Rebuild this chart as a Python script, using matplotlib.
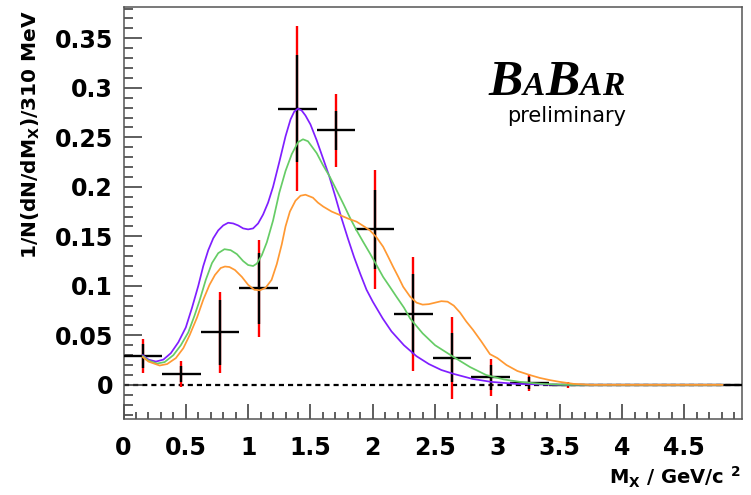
import matplotlib
matplotlib.use('Agg')
import matplotlib.pyplot as plt
from matplotlib.ticker import MultipleLocator, FixedLocator, FixedFormatter

plt.rcParams['mathtext.fontset'] = 'dejavusans'

# ---------------- data ----------------
mx = [0.155, 0.465, 0.775, 1.085, 1.395, 1.705, 2.015, 2.325,
      2.635, 2.945, 3.255, 3.565, 3.875, 4.185, 4.495, 4.805]
bin_half_width = 0.155
yval = [0.029, 0.011, 0.053, 0.0975, 0.279, 0.257, 0.157, 0.0715,
        0.0274, 0.0076, 0.002, 0.0, 0.0, 0.0, 0.0, 0.0]
stat_err = [0.012, 0.008, 0.033, 0.036, 0.054, 0.020, 0.040, 0.040,
            0.025, 0.0125, 0.006, 0.001, 0.0, 0.0, 0.0, 0.0]
tot_err = [0.017, 0.013, 0.041, 0.049, 0.083, 0.0365, 0.060, 0.0575,
           0.0414, 0.019, 0.0085, 0.003, 0.0, 0.0, 0.0, 0.0]

purple_x = [0.155, 0.20, 0.26, 0.32, 0.38, 0.44, 0.50, 0.55, 0.60, 0.64, 0.68,
            0.72, 0.76, 0.80, 0.84, 0.88, 0.92, 0.96, 1.00, 1.04, 1.08, 1.12,
            1.16, 1.20, 1.25, 1.30, 1.34, 1.37, 1.40, 1.43, 1.46, 1.50, 1.55,
            1.60, 1.65, 1.70, 1.75, 1.80, 1.85, 1.90, 1.95, 2.00, 2.08, 2.15,
            2.25, 2.35, 2.45, 2.55, 2.65, 2.80, 2.95, 3.15, 3.40, 3.60, 4.805]
purple_y = [0.030, 0.0255, 0.0235, 0.0255, 0.032, 0.043, 0.058, 0.078, 0.100,
            0.120, 0.136, 0.148, 0.156, 0.161, 0.1637, 0.163, 0.161, 0.158,
            0.157, 0.158, 0.163, 0.172, 0.184, 0.200, 0.225, 0.251, 0.268,
            0.276, 0.279, 0.277, 0.272, 0.263, 0.247, 0.229, 0.211, 0.190,
            0.168, 0.148, 0.129, 0.112, 0.096, 0.084, 0.067, 0.054, 0.040,
            0.029, 0.021, 0.015, 0.011, 0.006, 0.003, 0.001, 0.0002, 0.0, 0.0]

green_x = [0.155, 0.20, 0.27, 0.33, 0.40, 0.46, 0.52, 0.57, 0.61, 0.66, 0.71,
           0.76, 0.81, 0.86, 0.91, 0.96, 1.00, 1.04, 1.07, 1.11, 1.15, 1.20,
           1.25, 1.30, 1.35, 1.40, 1.44, 1.48, 1.55, 1.60, 1.656, 1.70, 1.763,
           1.82, 1.87, 1.92, 1.977, 2.03, 2.083, 2.137, 2.19, 2.25, 2.30, 2.40,
           2.50, 2.645, 2.78, 2.91, 3.05, 3.18, 3.35, 3.55, 4.805]
green_y = [0.029, 0.0245, 0.0215, 0.023, 0.030, 0.040, 0.053, 0.070, 0.085,
           0.106, 0.123, 0.133, 0.137, 0.136, 0.132, 0.125, 0.121, 0.120,
           0.1225, 0.131, 0.144, 0.166, 0.194, 0.216, 0.233, 0.245, 0.248,
           0.246, 0.234, 0.222, 0.210, 0.199, 0.183, 0.168, 0.156, 0.145,
           0.1328, 0.121, 0.109, 0.099, 0.089, 0.078, 0.067, 0.052, 0.040,
           0.0284, 0.018, 0.0099, 0.0055, 0.003, 0.001, 0.0, 0.0]

orange_x = [0.155, 0.20, 0.29, 0.35, 0.42, 0.48, 0.53, 0.59, 0.64, 0.69, 0.734,
            0.78, 0.814, 0.85, 0.894, 0.95, 1.00, 1.05, 1.095, 1.14, 1.188,
            1.23, 1.27, 1.30, 1.335, 1.38, 1.42, 1.46, 1.52, 1.56, 1.603, 1.67,
            1.736, 1.80, 1.87, 1.93, 1.977, 2.03, 2.083, 2.125, 2.164, 2.205,
            2.244, 2.30, 2.351, 2.40, 2.45, 2.50, 2.55, 2.60, 2.65, 2.70, 2.75,
            2.805, 2.87, 2.94, 3.00, 3.073, 3.16, 3.26, 3.34, 3.42, 3.50, 3.61,
            3.75, 4.805]
orange_y = [0.028, 0.0235, 0.0195, 0.021, 0.027, 0.037, 0.050, 0.068, 0.086,
            0.101, 0.111, 0.118, 0.1195, 0.119, 0.116, 0.109, 0.101, 0.096,
            0.0955, 0.098, 0.106, 0.122, 0.142, 0.160, 0.175, 0.186, 0.191,
            0.192, 0.189, 0.184, 0.180, 0.175, 0.1715, 0.168, 0.1648, 0.160,
            0.156, 0.149, 0.1395, 0.129, 0.119, 0.109, 0.099, 0.089, 0.083,
            0.081, 0.0815, 0.083, 0.0845, 0.084, 0.080, 0.073, 0.064, 0.0554,
            0.044, 0.031, 0.027, 0.020, 0.014, 0.0099, 0.007, 0.0048, 0.003,
            0.001, 0.0, 0.0]

y_ticks = [0, 0.05, 0.1, 0.15, 0.2, 0.25, 0.3, 0.35]
y_tick_labels = ['0', '0.05', '0.1', '0.15', '0.2', '0.25', '0.3', '0.35']
x_ticks = [0, 0.5, 1, 1.5, 2, 2.5, 3, 3.5, 4, 4.5]
x_tick_labels = ['0', '0.5', '1', '1.5', '2', '2.5', '3', '3.5', '4', '4.5']

# ---------------- figure ----------------
W, H = 751, 495
fig = plt.figure(figsize=(W / 100, H / 100), dpi=100)
fig.patch.set_facecolor('white')
ax = fig.add_axes([123.5 / W, 1 - 419 / H, (741.7 - 123.5) / W, (419 - 7) / H])
ax.set_xlim(0, 4.96)
ax.set_ylim(-0.0345, 0.3816)

ax.axhline(0, color='black', lw=1.6, ls=(0, (2.3, 1.8)), zorder=1)
ax.errorbar(mx, yval, yerr=tot_err, fmt='none', ecolor='#ff0000',
            elinewidth=1.7, capsize=0, zorder=2)
ax.errorbar(mx, yval, xerr=bin_half_width, yerr=stat_err, fmt='none',
            ecolor='black', elinewidth=1.7, capsize=0, zorder=3)

ax.plot(purple_x, purple_y, color='#7f1fff', lw=1.25, zorder=4)
ax.plot(green_x, green_y, color='#66cc66', lw=1.25, zorder=5)
ax.plot(orange_x, orange_y, color='#ff9933', lw=1.25, zorder=6)

for s in ax.spines.values():
    s.set_color('#555555')
    s.set_linewidth(1.1)

ax.yaxis.set_major_locator(FixedLocator(y_ticks))
ax.yaxis.set_major_formatter(FixedFormatter(y_tick_labels))
ax.yaxis.set_minor_locator(MultipleLocator(0.01))
ax.xaxis.set_major_locator(FixedLocator(x_ticks))
ax.xaxis.set_major_formatter(FixedFormatter(x_tick_labels))
ax.xaxis.set_minor_locator(MultipleLocator(0.1))

ax.tick_params(axis='y', which='major', direction='in', length=13, width=1.1,
               color='#333333', pad=7.5, labelsize=17)
ax.tick_params(axis='y', which='minor', direction='in', length=6.5, width=1.1,
               color='#333333')
ax.tick_params(axis='x', which='major', direction='in', length=10.8, width=1.1,
               color='#333333', pad=12, labelsize=17)
ax.tick_params(axis='x', which='minor', direction='in', length=5, width=1.1,
               color='#333333')
for lbl in ax.get_xticklabels() + ax.get_yticklabels():
    lbl.set_fontweight('bold')
    lbl.set_family('DejaVu Sans')

# axis titles
fig.text(31 / W, 1 - 10 / H, r'1/N(dN/dM$_{\mathbf{X}}$)/310 MeV',
         rotation=90, ha='center', va='top', fontsize=14.5,
         fontweight='bold', family='DejaVu Sans')
fig.text(741 / W, 1 - 485 / H, r'M$_{\mathbf{X}}$ / GeV/c $^{\mathbf{2}}$',
         ha='right', va='baseline', fontsize=14, fontweight='bold',
         family='DejaVu Sans')

# BaBar logo: letters placed side by side (no box overlap)
renderer = fig.canvas.get_renderer()
logo = [('B', 37), ('A', 24), ('B', 37), ('A', 24), ('R', 24)]
x_cur = 488.0
for ch, fs in logo:
    t = fig.text(x_cur / W, 1 - 95 / H, ch, ha='left', va='baseline',
                 fontsize=fs, family='Liberation Serif', style='italic',
                 fontweight='bold')
    ext = t.get_window_extent(renderer)
    x_cur = ext.x1 + 0.3
fig.text(507 / W, 1 - 121.7 / H, 'preliminary', ha='left', va='baseline',
         fontsize=15, family='DejaVu Sans')

fig.savefig('out.png', dpi=100, facecolor='white')
